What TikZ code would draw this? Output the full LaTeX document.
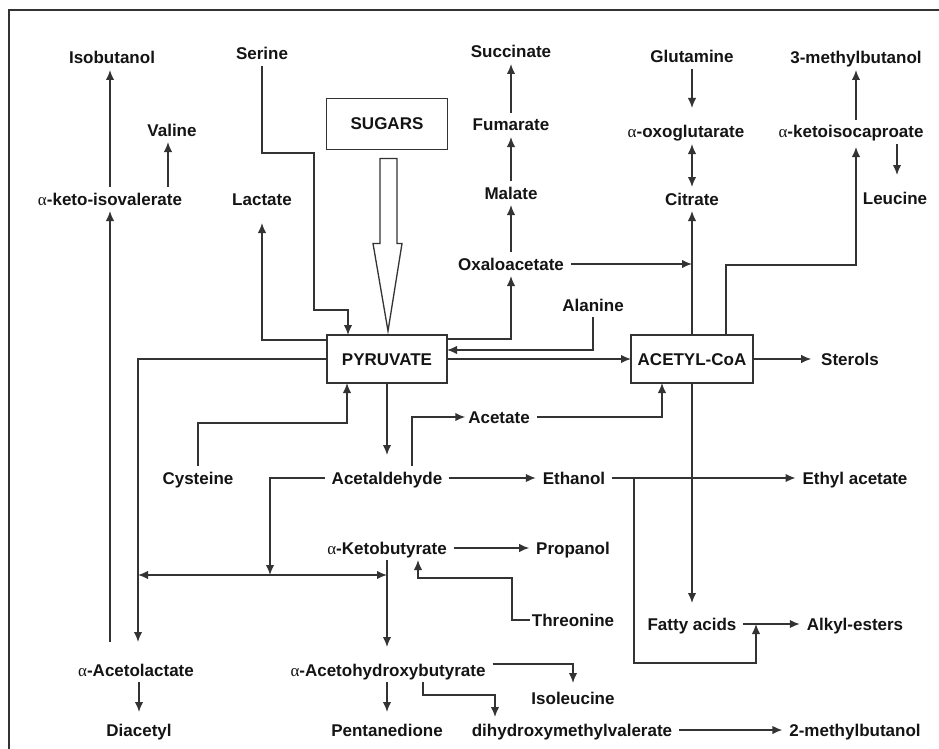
\documentclass[tikz,border=0pt]{standalone}
\usepackage{fontspec}
\setmainfont{Liberation Sans}
\newfontfamily\greekfont{Liberation Serif}
\usetikzlibrary{arrows.meta,calc}
\definecolor{linec}{HTML}{333333}
\definecolor{txtc}{HTML}{141414}
\newcommand{\lblfont}{\bfseries\fontsize{17}{19}\selectfont}
\newcommand{\al}{{\greekfont\mdseries α}}
\tikzset{
  lbl/.style={font=\lblfont, text=txtc, text height=14pt, text depth=2pt,
    inner xsep=1pt, inner ysep=1pt, outer xsep=6pt, outer ysep=3pt},
  bx/.style={draw=linec, line width=1.5pt, font=\lblfont, text=txtc,
    text height=14pt, text depth=2pt, inner sep=0pt, outer sep=0pt,
    minimum width=120pt, minimum height=48pt},
  ln/.style={draw=linec, line width=1.5pt},
  arr/.style={ln, -{Latex[length=10pt,width=8.5pt]}},
  darr/.style={ln, {Latex[length=10pt,width=8.5pt]}-{Latex[length=10pt,width=8.5pt]}},
}
\begin{document}
\begin{tikzpicture}[x=1pt,y=-1pt]
\useasboundingbox (0,0) rectangle (939,749);
% frame
\draw[linec, line width=1.5pt] (9,749) -- (9,10) -- (939,10);

% nodes
\node[lbl] (iso) at (112,58) {Isobutanol};
\node[lbl] (ser) at (262,54) {Serine};
\node[lbl] (val) at (172,130) {Valine};
\node[lbl] (kiv) at (110,199) {\al-keto-isovalerate};
\node[lbl] (lac) at (262,199) {Lactate};
\node[bx, minimum width=121pt, minimum height=51pt] (sug) at (387,124) {SUGARS};
\node[lbl] (suc) at (511,52) {Succinate};
\node[lbl] (fum) at (511,125) {Fumarate};
\node[lbl] (mal) at (511,193) {Malate};
\node[lbl] (oxa) at (511,264) {Oxaloacetate};
\node[lbl] (glu) at (692,57) {Glutamine};
\node[lbl] (oxo) at (686,132) {\al-oxoglutarate};
\node[lbl] (cit) at (692,199) {Citrate};
\node[lbl] (mb3) at (856,58) {3-methylbutanol};
\node[lbl] (kic) at (851,132) {\al-ketoisocaproate};
\node[lbl] (leu) at (895,198) {Leucine};
\node[bx] (pyr) at (387,359) {PYRUVATE};
\node[bx, minimum width=122pt] (acoa) at (692,359) {ACETYL-CoA};
\node[lbl] (ala) at (593,305) {Alanine};
\node[lbl] (ster) at (850,359) {Sterols};
\node[lbl] (acet) at (499,417) {Acetate};
\node[lbl] (ald) at (387,478) {Acetaldehyde};
\node[lbl] (cys) at (198,478) {Cysteine};
\node[lbl] (eth) at (574,478) {Ethanol};
\node[lbl] (etac) at (855,478) {Ethyl acetate};
\node[lbl] (akb) at (387,548) {\al-Ketobutyrate};
\node[lbl] (prop) at (573,548) {Propanol};
\node[lbl] (thr) at (573,620) {Threonine};
\node[lbl] (fat) at (692,624) {Fatty acids};
\node[lbl] (alk) at (855,624) {Alkyl-esters};
\node[lbl] (aal) at (136,670) {\al-Acetolactate};
\node[lbl] (ahb) at (388,670) {\al-Acetohydroxybutyrate};
\node[lbl] (ile) at (573,698) {Isoleucine};
\node[lbl] (dia) at (139,730) {Diacetyl};
\node[lbl] (pen) at (387,730) {Pentanedione};
\node[lbl] (dhm) at (572,730) {dihydroxymethylvalerate};
\node[lbl] (mb2) at (855,730) {2-methylbutanol};

% helper coordinates
\coordinate (valA) at ([xshift=-4pt]val.south);
\coordinate (aalT) at ([xshift=2pt,yshift=16pt]aal.north);
\coordinate (serA) at (314,153);
\coordinate (serB) at (348,310);
\coordinate (lacA) at (262,340);
\coordinate (oxB) at (511,339);
\coordinate (alaB) at (593,350);
\coordinate (oxoT) at ([yshift=12pt]oxo.north);
\coordinate (leuT) at ([xshift=2pt,yshift=11pt]leu.north);
\coordinate (acoaR) at ([xshift=34pt]acoa.north);
\coordinate (kicB) at (856,265);
\coordinate (kicT) at ([yshift=-3pt]kic.south);
\coordinate (aldT) at ([yshift=11pt]ald.north);
\coordinate (cysB) at (347,423);
\coordinate (aceB) at (412,417);
\coordinate (fatT) at ([yshift=9pt]fat.north);
\coordinate (ethJ) at (634,478);
\coordinate (alkJ) at (756,663);
\coordinate (hJ) at (270,575);
\coordinate (ahbT) at ([yshift=11pt]ahb.north);
\coordinate (thrA) at (512,578);
\coordinate (thrB) at (418,578);
\coordinate (dhA) at (423,695);

% sugars block arrow
\draw[linec, line width=1.3pt, fill=white, line join=miter]
  ($(sug.south)+(-7,9)$) -- ($(sug.south)+(-7,94)$) -- ($(sug.south)+(-14,94)$)
  -- ($(pyr.north)+(1,-4)$) -- ($(sug.south)+(15,94)$) -- ($(sug.south)+(10,94)$)
  -- ($(sug.south)+(10,9)$) -- cycle;

% left column
\draw[arr] (kiv.north) -- (kiv.north |- iso.south);
\draw[arr] (valA |- kiv.north) -- (valA);
\draw[arr] (kiv.south |- aalT) -- (kiv.south);
\draw[arr] (pyr.west) -| (aalT);
\draw[arr] (dia.north |- aal.south) -- ([yshift=6pt]dia.north);

% serine, lactate, cysteine
\draw[arr] (ser.south) |- (serA) |- (serB) -- (serB |- pyr.north);
\draw[arr] (pyr.west |- lacA) -- (lacA) -- ([yshift=-12pt]lac.south);
\draw[arr] (cys.north) |- (cysB) -- (cysB |- pyr.south);

% TCA side
\draw[arr] (pyr.east |- oxB) -| (oxa.south);
\draw[arr] (oxa.north) -- (mal.south);
\draw[arr] (mal.north) -- (fum.south);
\draw[arr] (fum.north) -- (suc.south);
\draw[arr] (oxa.east) -- (oxa.east -| acoa.north);
\draw[arr] (ala.south) -- (alaB) -- (pyr.east |- alaB);
\draw[arr] (pyr.east) -- (acoa.west);
\draw[arr] (acoa.north) -- (cit.south);
\draw[darr] (cit.north) -- (cit.north |- oxo.south);
\draw[arr] (glu.south) -- (glu.south |- oxoT);

% leucine branch
\draw[arr] (acoaR) |- (kicB) -- (kicB |- kicT);
\draw[arr] (mb3.south |- kic.north) -- (mb3.south);
\draw[arr] (leuT |- kic.south) -- (leuT);
\draw[arr] (acoa.east) -- ([xshift=-3pt]ster.west);

% acetaldehyde etc.
\draw[arr] (pyr.south) -- (aldT);
\draw[arr] (aceB |- ald.north) -- (aceB) -- ([xshift=4pt]acet.west);
\draw[arr] (acet.east) -| ([xshift=-30pt]acoa.south);
\draw[arr] (acoa.south) -- (fatT);
\draw[arr] (fat.east) -- (alk.west);
\draw[arr] (ald.east) -- (eth.west);
\draw[arr] (eth.east) -- (etac.west);
\draw[arr] (ethJ) |- (alkJ) -- (alkJ |- fat.east);

% lower branch
\draw[arr] (ald.west) -| (hJ);
\draw[darr] (aalT |- hJ) -- (akb.south |- hJ);
\draw[arr] (akb.south) -- (akb.south |- ahbT);
\draw[arr] (akb.east) -- (prop.west);
\draw[arr] ([xshift=5pt]thr.west) -| (thrA) -- (thrB) -- (thrB |- akb.south);
\draw[arr] ([yshift=6pt]ahb.east) -| ([yshift=3pt]ile.north);
\draw[arr] (dhA |- ahb.south) -- (dhA) -| ([xshift=-77pt,yshift=1pt]dhm.north);
\draw[arr] (pen.north |- ahb.south) -- ([yshift=6pt]pen.north);
\draw[arr] (dhm.east) -- (mb2.west);
\end{tikzpicture}
\end{document}
